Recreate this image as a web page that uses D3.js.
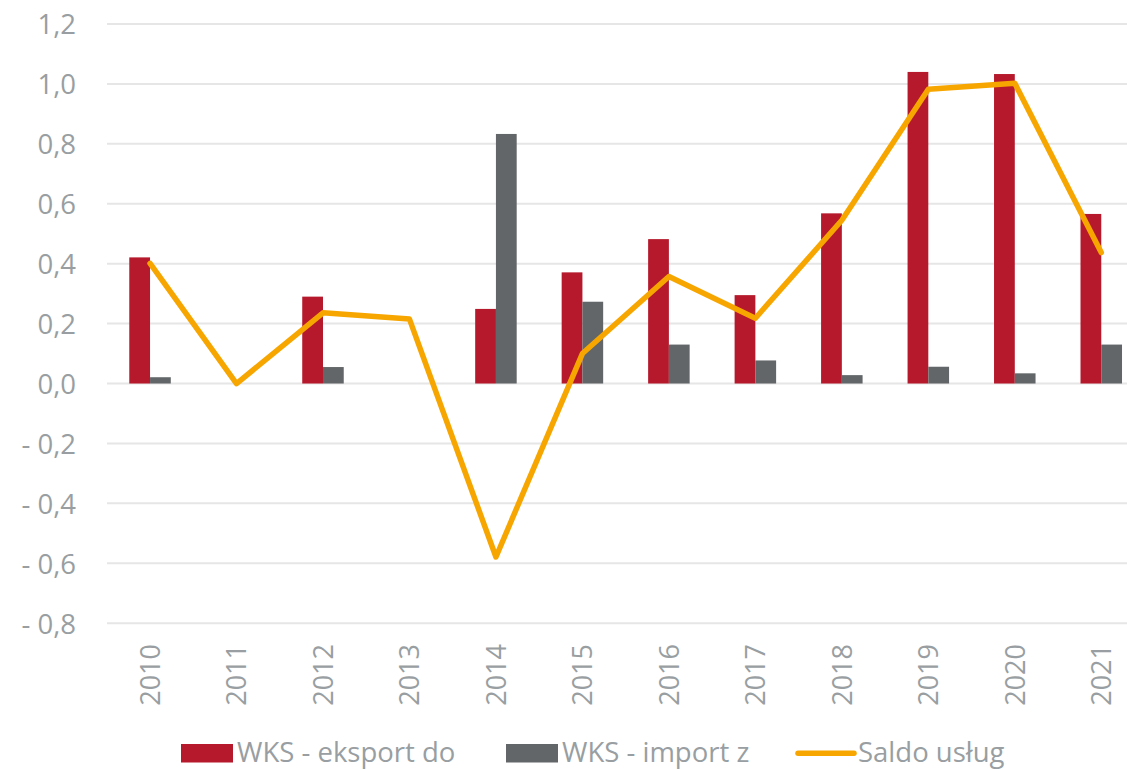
<!DOCTYPE html>
<html>
<head>
<meta charset="utf-8">
<script src="https://cdn.jsdelivr.net/npm/d3@7"></script>
<style>
  html, body { margin: 0; padding: 0; background: #ffffff; }
  svg { display: block; }
  text { font-family: "Open Sans", "Noto Sans", sans-serif; fill: #989ea1; }
</style>
</head>
<body>
<svg id="chart" width="1127" height="770"></svg>
<script>
// Years on the category axis
const years = ["2010", "2011", "2012", "2013", "2014", "2015", "2016", "2017", "2018", "2019", "2020", "2021"];
// WKS - eksport do
const eksport = [0.421, null, 0.29, null, 0.249, 0.371, 0.482, 0.295, 0.568, 1.04, 1.033, 0.566];
// WKS - import z
const importZ = [0.021, null, 0.055, null, 0.833, 0.273, 0.13, 0.077, 0.028, 0.056, 0.034, 0.13];
// Saldo usług
const saldo = [0.401, 0.0, 0.236, 0.215, -0.579, 0.10, 0.357, 0.218, 0.545, 0.982, 1.002, 0.437];
// Value-axis ticks
const yTicks = [-0.8, -0.6, -0.4, -0.2, 0, 0.2, 0.4, 0.6, 0.8, 1.0, 1.2];

const seriesNames = ["WKS - eksport do", "WKS - import z", "Saldo usług"];
const colors = { eksport: "#b5192b", import: "#626668", saldo: "#f7a600" };

const svg = d3.select("#chart");

const x = d3.scaleBand().domain(years).range([106.8, 1144.5]).padding(0);
const y = d3.scaleLinear().domain([-0.8, 1.2]).range([623.2, 24]);
const barW = x.bandwidth() * 0.24;
const cx = d => x(d) + x.bandwidth() / 2;

const fmt = v => {
  const s = Math.abs(v).toFixed(1).replace(".", ",");
  return v < -1e-9 ? "- " + s : s;
};

// Horizontal gridlines
svg.append("g")
  .selectAll("line")
  .data(yTicks)
  .join("line")
  .attr("x1", 107)
  .attr("x2", 1127)
  .attr("y1", d => y(d))
  .attr("y2", d => y(d))
  .attr("stroke", "#e6e6e6")
  .attr("stroke-width", 2);

// Value axis labels
const yAxis = d3.axisLeft(y).tickValues(yTicks).tickFormat(fmt).tickSize(0).tickPadding(0);
svg.append("g")
  .attr("transform", "translate(76,0)")
  .call(yAxis)
  .call(g => g.select(".domain").remove())
  .call(g => g.selectAll("text")
    .attr("font-size", 27.5)
    .attr("font-family", "'Open Sans', sans-serif")
    .attr("fill", "#959b9e")
    .attr("dy", "0.36em"));

// Category labels, rotated
svg.append("g")
  .selectAll("text")
  .data(years)
  .join("text")
  .attr("transform", d => `translate(${cx(d)},644) rotate(-90)`)
  .attr("text-anchor", "end")
  .attr("dy", "0.36em")
  .attr("font-size", 27)
  .attr("fill", "#959b9e")
  .text(d => d);

// Bars: export (left) and import (right) of each category centre
const bars = svg.append("g");
bars.selectAll("rect.eks")
  .data(years.map((yr, i) => ({ yr, v: eksport[i] })).filter(d => d.v != null))
  .join("rect")
  .attr("class", "eks")
  .attr("x", d => cx(d.yr) - barW)
  .attr("width", barW)
  .attr("y", d => y(Math.max(0, d.v)))
  .attr("height", d => Math.abs(y(d.v) - y(0)))
  .attr("fill", colors.eksport);

bars.selectAll("rect.imp")
  .data(years.map((yr, i) => ({ yr, v: importZ[i] })).filter(d => d.v != null))
  .join("rect")
  .attr("class", "imp")
  .attr("x", d => cx(d.yr))
  .attr("width", barW)
  .attr("y", d => y(Math.max(0, d.v)))
  .attr("height", d => Math.abs(y(d.v) - y(0)))
  .attr("fill", colors.import);

// Balance line
const line = d3.line()
  .x((d, i) => cx(years[i]))
  .y(d => y(d));

svg.append("path")
  .datum(saldo)
  .attr("d", line)
  .attr("fill", "none")
  .attr("stroke", colors.saldo)
  .attr("stroke-width", 5.5)
  .attr("stroke-linejoin", "round")
  .attr("stroke-linecap", "round");

// Legend
const legend = svg.append("g");
const lgFont = 27.5;
const items = [
  { name: seriesNames[0], type: "rect", color: colors.eksport, x: 181, tx: 237 },
  { name: seriesNames[1], type: "rect", color: colors.import, x: 506, tx: 562 },
  { name: seriesNames[2], type: "line", color: colors.saldo, x: 798, tx: 858 }
];
items.forEach(it => {
  if (it.type === "rect") {
    legend.append("rect")
      .attr("x", it.x).attr("y", 744)
      .attr("width", 52).attr("height", 18.5)
      .attr("fill", it.color);
  } else {
    legend.append("line")
      .attr("x1", it.x).attr("x2", it.x + 56)
      .attr("y1", 753.3).attr("y2", 753.3)
      .attr("stroke", it.color)
      .attr("stroke-width", 5.5)
      .attr("stroke-linecap", "round");
  }
  legend.append("text")
    .attr("x", it.tx)
    .attr("y", 762)
    .attr("font-size", lgFont)
    .attr("fill", "#959b9e")
    .text(it.name);
});
</script>
</body>
</html>
